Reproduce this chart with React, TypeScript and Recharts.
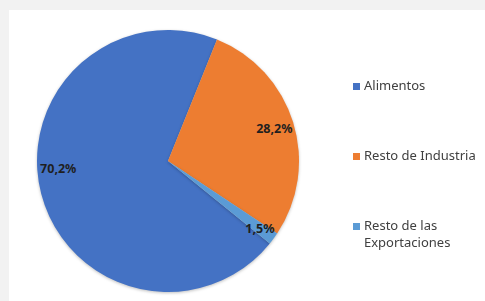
import { PieChart, Pie, Cell, Legend } from "recharts";

const categories = ["Alimentos", "Resto de Industria", "Resto de las Exportaciones"];
const shares = [70.2, 28.2, 1.5];
const colors = ["#4472C4", "#ED7D31", "#5B9BD5"];

const data = categories.map((name, i) => ({ name, value: shares[i] }));

const RAD = Math.PI / 180;
// Excel nudged the big slice's label a little off its mid angle
const labelAngleShift = [-10.5, 0, 0];
const labelRadius = [0.84, 0.85, 0.87];

const renderLabel = (props: any) => {
  const { cx, cy, midAngle, outerRadius, index, value } = props;
  const a = (midAngle + labelAngleShift[index]) * RAD;
  const r = outerRadius * labelRadius[index];
  const x = cx + r * Math.cos(-a);
  const y = cy + r * Math.sin(-a);
  return (
    <text
      x={x}
      y={y}
      textAnchor="middle"
      dominantBaseline="central"
      fontSize={12.5}
      fontWeight="bold"
      fill="#1f1f1f"
      fontFamily="'Noto Sans', sans-serif"
    >
      {Number(value).toFixed(1).replace(".", ",")}%
    </text>
  );
};

const renderLegend = () => (
  <div style={{ fontFamily: "'Noto Sans', sans-serif", fontSize: 13, color: "#404040", lineHeight: "17px" }}>
    {data.map((d, i) => (
      <div key={d.name} style={{ display: "flex", alignItems: "flex-start", marginBottom: 53 }}>
        <span
          style={{
            display: "inline-block",
            width: 7,
            height: 7,
            background: colors[i],
            marginTop: 6,
            marginRight: 4,
            flex: "none",
          }}
        />
        <span style={{ width: i === 2 ? 100 : 130 }}>{d.name}</span>
      </div>
    ))}
  </div>
);

export default function App() {
  return (
    <div style={{ position: "fixed", left: 0, top: 0, width: 485, height: 301, background: "#f2f2f2" }}>
      <div style={{ position: "absolute", left: 9, top: 10, width: 476, height: 291, background: "#ffffff" }}>
        <PieChart width={476} height={291} margin={{ top: 0, right: 0, bottom: 0, left: 0 }}>
          <Pie
            data={data}
            dataKey="value"
            nameKey="name"
            cx={159}
            cy={151}
            outerRadius={131}
            startAngle={-39}
            endAngle={-399}
            stroke="none"
            label={renderLabel}
            labelLine={false}
            isAnimationActive={false}
            style={{ filter: "drop-shadow(0px 1px 1.5px rgba(0,0,0,0.25))" }}
          >
            {data.map((d, i) => (
              <Cell key={d.name} fill={colors[i]} />
            ))}
          </Pie>
          <Legend
            content={renderLegend}
            wrapperStyle={{ left: 344, top: 67, width: 132, right: "auto", bottom: "auto" }}
          />
        </PieChart>
      </div>
    </div>
  );
}
